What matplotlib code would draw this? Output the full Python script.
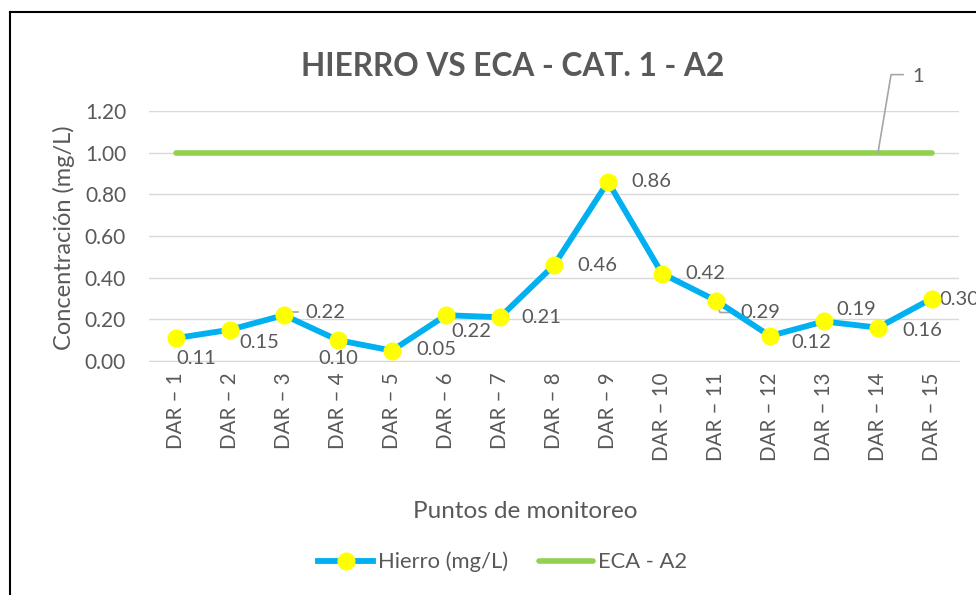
import matplotlib
matplotlib.use("Agg")
import matplotlib.pyplot as plt
import matplotlib.transforms as mtransforms
from matplotlib.lines import Line2D

plt.rcParams['font.family'] = ['Lato', 'DejaVu Sans']

categories = ["DAR – 1", "DAR – 2", "DAR – 3", "DAR – 4", "DAR – 5", "DAR – 6", "DAR – 7",
              "DAR – 8", "DAR – 9", "DAR – 10", "DAR – 11", "DAR – 12", "DAR – 13",
              "DAR – 14", "DAR – 15"]
hierro = [0.11, 0.15, 0.22, 0.10, 0.05, 0.22, 0.21, 0.46, 0.86, 0.42, 0.29, 0.12, 0.19, 0.16, 0.30]
eca = [1.0] * 15
yticks = [0.0, 0.2, 0.4, 0.6, 0.8, 1.0, 1.2]

# label offsets (points) for each data label
offsets = [(14.4, -14.4), (21, -9), (30, 2), (0, -13), (32, 0.7), (18, -11.5), (29.5, 0),
           (31, 0), (31, 0), (31, 0), (32, -8.6), (29.5, -4.7), (23, 8.6), (32, -2), (19.5, -1)]

TXT = '#595959'
LEAD = '#A6A6A6'
fig = plt.figure(figsize=(9.76, 5.95), dpi=100)
ax = fig.add_axes([149/976, 1-361/595, (959-149)/976, (361-111)/595])
x = list(range(len(categories)))

ax.plot(x, eca, color='#92D050', lw=4.0, solid_capstyle='round', zorder=3, label='ECA - A2')
ax.plot(x, hierro, color='#00B0F0', lw=4.2, marker='o', ms=12, mfc='#FFFF00', mec='#FFFF00',
        zorder=4, label='Hierro (mg/L)')

for xi, v, off in zip(x, hierro, offsets):
    ax.annotate(f"{v:.2f}", (xi, v), xytext=off, textcoords='offset points',
                ha='center', va='center', fontsize=14.5, color=TXT, annotation_clip=False)


def pt_transform(xd, yd):
    return (mtransforms.Affine2D().scale(1/72) + fig.dpi_scale_trans +
            mtransforms.ScaledTranslation(xd, yd, ax.transData))


# leader lines (offsets in points from the data point)
ax.plot([2.2, 10], [2.2, 2.2], color=LEAD, lw=1.2, transform=pt_transform(2, hierro[2]),
        clip_on=False, zorder=3.5)
ax.plot([0.7, 2.9, 10], [-2.2, -8.6, -8.6], color=LEAD, lw=1.2,
        transform=pt_transform(10, hierro[10]), clip_on=False, zorder=3.5)
# ECA "1" callout
ax.plot([0, 9.4, 18], [0, 56.2, 56.2], color=LEAD, lw=1.2,
        transform=pt_transform(13, eca[13]), clip_on=False, zorder=5)
ax.annotate(f"{eca[13]:g}", (13, eca[13]), xytext=(24.5, 55), textcoords='offset points',
            ha='left', va='center', fontsize=14.5, color=TXT, annotation_clip=False)

ax.set_xlim(-0.5, len(categories) - 0.5)
ax.set_ylim(0, 1.2)
ax.set_yticks(yticks)
ax.set_yticklabels([f"{t:.2f}" for t in yticks], fontsize=15, color=TXT)
ax.set_xticks(x)
ax.set_xticklabels(categories, rotation=90, fontsize=14.8, color=TXT)
ax.tick_params(axis='y', length=0, pad=16.5)
ax.tick_params(axis='x', length=0, pad=8)
ax.grid(axis='y', color='#D9D9D9', lw=1)
ax.set_axisbelow(True)
for s in ['top', 'right', 'left']:
    ax.spines[s].set_visible(False)
ax.spines['bottom'].set_color('#D9D9D9')

fig.text(64/976, 1-237.5/595, 'Concentración (mg/L)', rotation=90, ha='center', va='center',
         fontsize=17, color=TXT)
fig.text(525/976, 1-512/595, 'Puntos de monitoreo', ha='center', va='center', fontsize=17.5, color=TXT)
fig.text(513/976, 1-66/595, 'HIERRO VS ECA - CAT. 1 - A2', ha='center', va='center',
         fontsize=22.8, fontweight='bold', color=TXT)

h = [Line2D([], [], color='#00B0F0', lw=4.2, marker='o', ms=12, mfc='#FFFF00', mec='#FFFF00'),
     Line2D([], [], color='#92D050', lw=4.0, solid_capstyle='round')]
fig.legend(h, ['Hierro (mg/L)', 'ECA - A2'], loc='center', bbox_to_anchor=(503/976, 1-562/595),
           ncol=2, frameon=False, fontsize=15.8, handlelength=2.5, handletextpad=0.23,
           columnspacing=1.37, labelcolor=TXT)

# outer border (left and top visible)
fig.add_artist(Line2D([10/976, 10/976], [0, 1-12/595], color='black', lw=1.5, transform=fig.transFigure))
fig.add_artist(Line2D([10/976, 1], [1-12/595, 1-12/595], color='black', lw=1.5, transform=fig.transFigure))

fig.savefig('out.png', dpi=100)
